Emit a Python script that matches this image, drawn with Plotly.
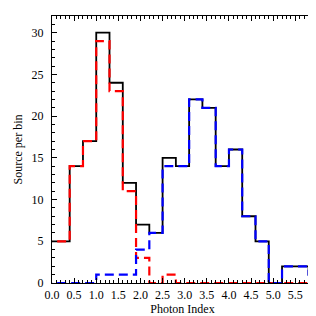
import plotly.graph_objects as go

# bin left edges (width 0.3), last edge appended
edges = [-0.2, 0.1, 0.4, 0.7, 1.0, 1.3, 1.6, 1.9, 2.2, 2.5, 2.8, 3.1, 3.4, 3.7, 4.0, 4.3, 4.6, 4.9, 5.2, 5.5, 5.8, 6.1]
total = [5, 5, 14, 17, 30, 24, 12, 7, 6, 15, 14, 22, 21, 14, 16, 8, 5, 0, 2, 2, 1]
red = [5, 5, 14, 17, 29, 23, 11, 3, 0, 1, 0, 0, 0, 0, 0, 0, 0, 0, 0, 0, 0]
blue = [0, 0, 0, 0, 1, 1, 1, 4, 6, 14, 14, 22, 21, 14, 16, 8, 5, 0, 2, 2, 1]

x_ticks = [0.0, 0.5, 1.0, 1.5, 2.0, 2.5, 3.0, 3.5, 4.0, 4.5, 5.0, 5.5]
y_ticks = [0, 5, 10, 15, 20, 25, 30]

def stepy(v):
    return v + [v[-1]]

fig = go.Figure()
fig.add_trace(go.Scatter(x=edges, y=stepy(total), mode="lines", line_shape="hv",
                         line=dict(color="black", width=1.8), showlegend=False))
fig.add_trace(go.Scatter(x=edges, y=stepy(red), mode="lines", line_shape="hv",
                         line=dict(color="#ff0000", width=2.2, dash="9px,5px"), showlegend=False))
fig.add_trace(go.Scatter(x=edges, y=stepy(blue), mode="lines", line_shape="hv",
                         line=dict(color="#0000ff", width=2.2, dash="9px,5px"), showlegend=False))

font = dict(family="Liberation Serif", size=12, color="black")
fig.update_layout(
    width=308, height=308,
    margin=dict(l=44, r=3, t=8, b=33, autoexpand=False),
    paper_bgcolor="white", plot_bgcolor="white",
    font=font,
    xaxis=dict(range=[0, 5.9], tickvals=x_ticks, ticktext=[f"{v:.1f}" for v in x_ticks],
               ticks="inside", ticklen=5, tickwidth=1, tickcolor="black",
               mirror="allticks", showline=True, linecolor="black", linewidth=1,
               showgrid=False, zeroline=False, automargin=False, ticklabelstandoff=1,
               minor=dict(dtick=0.1, ticks="inside", ticklen=3, tickcolor="black", showgrid=False),
               title=dict(text="Photon Index", font=font, standoff=4)),
    yaxis=dict(range=[0, 32], tickvals=y_ticks,
               ticks="inside", ticklen=5, tickwidth=1, tickcolor="black",
               mirror="allticks", showline=True, linecolor="black", linewidth=1,
               showgrid=False, zeroline=False, automargin=False, ticklabelstandoff=5,
               minor=dict(dtick=1, ticks="inside", ticklen=3, tickcolor="black", showgrid=False),
               title=dict(text="Source per bin", font=font, standoff=6)),
)
fig.write_html("out.html")
